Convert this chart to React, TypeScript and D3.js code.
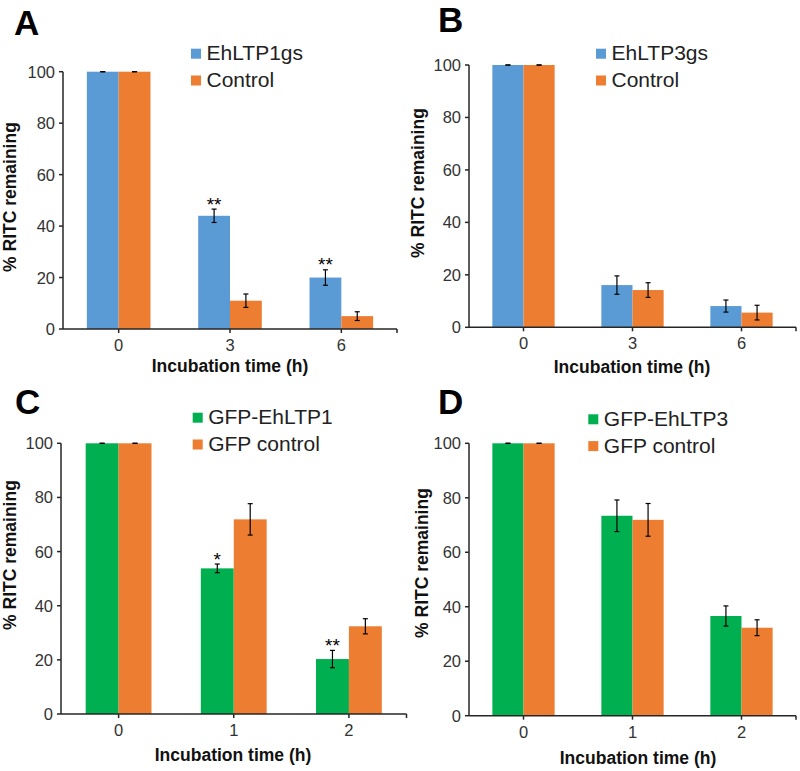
import React from 'react';
import * as d3 from 'd3';

// ---------- data ----------
const timesAB = ['0', '3', '6'];
const timesCD = ['0', '1', '2'];
const yTicks = [0, 20, 40, 60, 80, 100];

const ehltp1gsValues = [100, 44, 20];
const ehltp1gsErrors = [0, 2.6, 3.0];
const controlAValues = [100, 11, 5];
const controlAErrors = [0, 2.6, 1.7];
const signifA = ['', '**', '**'];

const ehltp3gsValues = [100, 16.1, 8.1];
const ehltp3gsErrors = [0, 3.5, 2.3];
const controlBValues = [100, 14.2, 5.6];
const controlBErrors = [0, 2.8, 2.8];
const signifB = ['', '', ''];

const gfpEhltp1Values = [100, 53.8, 20.3];
const gfpEhltp1Errors = [0, 1.6, 3.2];
const gfpControlCValues = [100, 71.9, 32.4];
const gfpControlCErrors = [0, 5.8, 2.8];
const signifC = ['', '*', '**'];

const gfpEhltp3Values = [100, 73.4, 36.6];
const gfpEhltp3Errors = [0, 5.8, 3.7];
const gfpControlDValues = [100, 71.9, 32.3];
const gfpControlDErrors = [0, 6.0, 2.9];
const signifD = ['', '', ''];

const BLUE = '#5B9BD5';
const ORANGE = '#ED7D31';
const GREEN = '#00B050';
const AXIS = '#262626';
const FONT = '"Liberation Sans", Arial, Helvetica, sans-serif';

type PanelCfg = {
  letter: string;
  letterX: number;
  letterY: number;
  categories: string[];
  s1: { name: string; color: string; values: number[]; errors: number[] };
  s2: { name: string; color: string; values: number[]; errors: number[] };
  signif: string[];
  x0: number;
  x1: number;
  yTop: number;
  yBottom: number;
  legendX: number;
  legendY: number;
  yTitleX: number;
  yTitleY: number;
  xTitleX: number;
  xTitleY: number;
};

const panels: PanelCfg[] = [
  {
    letter: 'A', letterX: 14, letterY: 35,
    categories: timesAB,
    s1: { name: 'EhLTP1gs', color: BLUE, values: ehltp1gsValues, errors: ehltp1gsErrors },
    s2: { name: 'Control', color: ORANGE, values: controlAValues, errors: controlAErrors },
    signif: signifA,
    x0: 63, x1: 397, yTop: 71.7, yBottom: 329,
    legendX: 191, legendY: 48.7,
    yTitleX: 16, yTitleY: 197,
    xTitleX: 230, xTitleY: 372,
  },
  {
    letter: 'B', letterX: 438, letterY: 31.7,
    categories: timesAB,
    s1: { name: 'EhLTP3gs', color: BLUE, values: ehltp3gsValues, errors: ehltp3gsErrors },
    s2: { name: 'Control', color: ORANGE, values: controlBValues, errors: controlBErrors },
    signif: signifB,
    x0: 469, x1: 796, yTop: 65, yBottom: 327.3,
    legendX: 596, legendY: 48.7,
    yTitleX: 424, yTitleY: 183,
    xTitleX: 632, xTitleY: 373,
  },
  {
    letter: 'C', letterX: 15, letterY: 414.3,
    categories: timesCD,
    s1: { name: 'GFP-EhLTP1', color: GREEN, values: gfpEhltp1Values, errors: gfpEhltp1Errors },
    s2: { name: 'GFP control', color: ORANGE, values: gfpControlCValues, errors: gfpControlCErrors },
    signif: signifC,
    x0: 61, x1: 406.5, yTop: 443.3, yBottom: 714,
    legendX: 192.7, legendY: 412.7,
    yTitleX: 15.5, yTitleY: 555,
    xTitleX: 233, xTitleY: 761,
  },
  {
    letter: 'D', letterX: 438, letterY: 414,
    categories: timesCD,
    s1: { name: 'GFP-EhLTP3', color: GREEN, values: gfpEhltp3Values, errors: gfpEhltp3Errors },
    s2: { name: 'GFP control', color: ORANGE, values: gfpControlDValues, errors: gfpControlDErrors },
    signif: signifD,
    x0: 469, x1: 796, yTop: 443.3, yBottom: 715.7,
    legendX: 588.3, legendY: 414.3,
    yTitleX: 428, yTitleY: 563,
    xTitleX: 638, xTitleY: 764,
  },
];

function ErrorBar({ cx, y, v, e }: { cx: number; y: d3.ScaleLinear<number, number>; v: number; e: number }) {
  const top = y(v + e);
  const bot = y(v - e);
  const cap = 2.5;
  return (
    <g stroke="#000" strokeWidth={1.2}>
      <line x1={cx} x2={cx} y1={top} y2={bot} />
      <line x1={cx - cap} x2={cx + cap} y1={top} y2={top} />
      <line x1={cx - cap} x2={cx + cap} y1={bot} y2={bot} />
    </g>
  );
}

function Panel({ p }: { p: PanelCfg }) {
  const x = d3.scaleBand<string>().domain(p.categories).range([p.x0, p.x1]).padding(0);
  const y = d3.scaleLinear().domain([0, 100]).range([p.yBottom, p.yTop]);
  const bw = x.bandwidth() / 3.5;
  const center = (c: string) => (x(c) as number) + x.bandwidth() / 2;

  return (
    <g fontFamily={FONT}>
      <text x={p.letterX} y={p.letterY} fontSize={35} fontWeight="bold" fill="#000">
        {p.letter}
      </text>

      {/* bars */}
      {p.categories.map((c, i) => (
        <g key={'b' + c}>
          <rect x={center(c) - bw} y={y(p.s1.values[i])} width={bw} height={y(0) - y(p.s1.values[i])} fill={p.s1.color} />
          <rect x={center(c)} y={y(p.s2.values[i])} width={bw} height={y(0) - y(p.s2.values[i])} fill={p.s2.color} />
        </g>
      ))}

      {/* error bars */}
      {p.categories.map((c, i) => (
        <g key={'e' + c}>
          <ErrorBar cx={center(c) - bw / 2} y={y} v={p.s1.values[i]} e={p.s1.errors[i]} />
          <ErrorBar cx={center(c) + bw / 2} y={y} v={p.s2.values[i]} e={p.s2.errors[i]} />
        </g>
      ))}

      {/* significance */}
      {p.categories.map((c, i) =>
        p.signif[i] ? (
          <text
            key={'s' + c}
            x={center(c) - bw / 2}
            y={y(p.s1.values[i] + p.s1.errors[i]) + 1.5}
            textAnchor="middle"
            fontSize={19}
            fill="#000"
          >
            {p.signif[i]}
          </text>
        ) : null
      )}

      {/* y axis */}
      <g stroke={AXIS} strokeWidth={1.5}>
        <line x1={p.x0} x2={p.x0} y1={y(100)} y2={y(0)} />
        {yTicks.map((t) => (
          <line key={'yt' + t} x1={p.x0 - 4} x2={p.x0} y1={y(t)} y2={y(t)} />
        ))}
      </g>
      {yTicks.map((t) => (
        <text key={'yl' + t} x={p.x0 - 8} y={y(t) + 6} textAnchor="end" fontSize={16.5} fill="#333">
          {t}
        </text>
      ))}

      {/* x axis */}
      <g stroke={AXIS} strokeWidth={1.5}>
        <line x1={p.x0} x2={p.x1} y1={y(0)} y2={y(0)} />
        <line x1={p.x1} x2={p.x1} y1={y(0)} y2={y(0) + 4} />
        {p.categories.map((c) => (
          <line key={'xt' + c} x1={center(c)} x2={center(c)} y1={y(0)} y2={y(0) + 4} />
        ))}
      </g>
      {p.categories.map((c) => (
        <text key={'xl' + c} x={center(c)} y={y(0) + 22} textAnchor="middle" fontSize={16.5} fill="#333">
          {c}
        </text>
      ))}

      {/* titles */}
      <text
        transform={`translate(${p.yTitleX},${p.yTitleY}) rotate(-90)`}
        textAnchor="middle"
        fontSize={17.5}
        fontWeight="bold"
        fill="#111"
      >
        % RITC remaining
      </text>
      <text x={p.xTitleX} y={p.xTitleY} textAnchor="middle" fontSize={17.5} fontWeight="bold" fill="#111">
        Incubation time (h)
      </text>

      {/* legend */}
      {[p.s1, p.s2].map((s, i) => (
        <g key={'lg' + i}>
          <rect x={p.legendX} y={p.legendY + i * 26.8} width={10} height={10} fill={s.color} />
          <text x={p.legendX + 15.5} y={p.legendY + 11.5 + i * 26.8} fontSize={21} fill="#222">
            {s.name}
          </text>
        </g>
      ))}
    </g>
  );
}

export default function App() {
  return (
    <svg
      width={800}
      height={771}
      viewBox="0 0 800 771"
      style={{ position: 'absolute', left: 0, top: 0, background: '#fff' }}
    >
      <rect x={0} y={0} width={800} height={771} fill="#fff" />
      {panels.map((p) => (
        <Panel key={p.letter} p={p} />
      ))}
    </svg>
  );
}
